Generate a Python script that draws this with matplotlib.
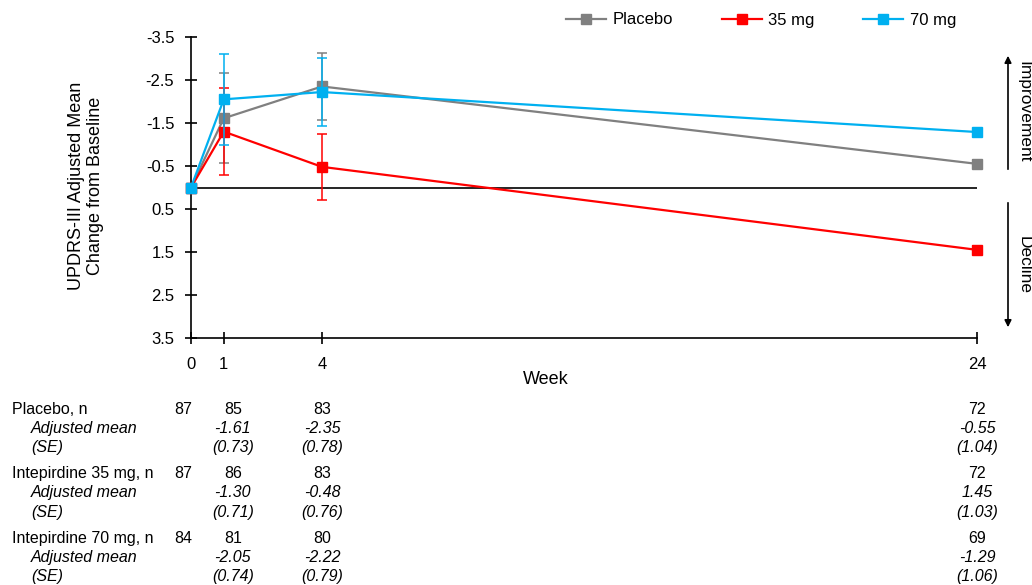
import numpy as np
import matplotlib
matplotlib.use('Agg')
import matplotlib.pyplot as plt
import matplotlib.transforms as mtransforms
from matplotlib.lines import Line2D

############################################################
# Data

weeks = [0, 1, 4, 24]
week_ticks = [0, 1, 4, 24]

placebo = [0, -1.61, -2.35, -0.55]
mg35 = [0, -1.30, -0.48, 1.45]
mg70 = [0, -2.05, -2.22, -1.29]

# error bar half-lengths as drawn in the figure
placebo_err = [0, 1.05, 0.77, 0.08]
mg35_err = [0, 1.02, 0.77, 0.08]
mg70_err = [0, 1.06, 0.80, 0.08]

series_names = ['Placebo', '35 mg', '70 mg']
colors = ['#808080', '#FF0000', '#00B0F0']

# table below the chart
row_labels = ['Placebo, n', 'Adjusted mean', '(SE)',
              'Intepirdine 35 mg, n', 'Adjusted mean', '(SE)',
              'Intepirdine 70 mg, n', 'Adjusted mean', '(SE)']
n_placebo = ['87', '85', '83', '72']
n_35 = ['87', '86', '83', '72']
n_70 = ['84', '81', '80', '69']
mean_placebo = ['', '-1.61', '-2.35', '-0.55']
mean_35 = ['', '-1.30', '-0.48', '1.45']
mean_70 = ['', '-2.05', '-2.22', '-1.29']
se_placebo = ['', '(0.73)', '(0.78)', '(1.04)']
se_35 = ['', '(0.71)', '(0.76)', '(1.03)']
se_70 = ['', '(0.74)', '(0.79)', '(1.06)']

############################################################
# Plotting

plt.rcParams['font.family'] = ['Liberation Sans', 'DejaVu Sans']

W, H = 1032, 585
fig = plt.figure(figsize=(W / 100, H / 100), dpi=100)
ax = fig.add_axes([191 / W, 1 - 338 / H, (977 - 191) / W, (338 - 37) / H])

def fx(px):
    return px / W

def fy(py):
    return 1 - py / H

ax.axhline(0, color='black', lw=1.2, zorder=1)

all_y = [placebo, mg35, mg70]
all_err = [placebo_err, mg35_err, mg70_err]
handles = []
for i in range(3):
    ax.errorbar(weeks, all_y[i], yerr=all_err[i], color=colors[i], marker='s',
                markersize=7, lw=1.6, elinewidth=1.1, capsize=3.5, capthick=1.1,
                clip_on=False, zorder=3 + i)
    handles.append(Line2D([], [], color=colors[i], marker='s', markersize=7, lw=1.6,
                          label=series_names[i]))

ax.set_xlim(0, 24)
ax.set_ylim(3.5, -3.5)
ax.set_xticks(week_ticks)
ax.set_xticklabels([str(w) for w in week_ticks])
yt = np.arange(-3.5, 3.6, 1.0)
ax.set_yticks(yt)
ax.set_yticklabels(['%.1f' % v for v in yt])
ax.tick_params(direction='inout', length=8, width=1.2, labelsize=12, colors='black')
ax.tick_params(axis='x', pad=10)
ax.tick_params(axis='y', pad=8)
for s in ['top', 'right']:
    ax.spines[s].set_visible(False)
for s in ['left', 'bottom']:
    ax.spines[s].set_linewidth(1.2)

fig.text(fx(546), fy(380), 'Week', ha='center', va='center', fontsize=13)
fig.text(fx(86), fy(186), 'UPDRS-III Adjusted Mean\nChange from Baseline', rotation=90,
         ha='center', va='center', fontsize=13, multialignment='center', linespacing=1.1)

leg = fig.legend(handles=handles, loc='center', bbox_to_anchor=(fx(761), fy(20)), ncol=3,
                 frameon=False, fontsize=12, handlelength=2.4, columnspacing=2.9,
                 handletextpad=0.4)

# improvement / decline arrows
ax.annotate('', xy=(fx(1008), fy(53)), xytext=(fx(1008), fy(172)), xycoords='figure fraction',
            textcoords='figure fraction',
            arrowprops=dict(arrowstyle='-|>', color='black', lw=1.2, mutation_scale=10))
ax.annotate('', xy=(fx(1008), fy(330)), xytext=(fx(1008), fy(200)), xycoords='figure fraction',
            textcoords='figure fraction',
            arrowprops=dict(arrowstyle='-|>', color='black', lw=1.2, mutation_scale=10))
fig.text(fx(1024), fy(112), 'Improvement', rotation=270, ha='center', va='center', fontsize=12.5)
fig.text(fx(1024), fy(265), 'Decline', rotation=270, ha='center', va='center', fontsize=12.5)

# table (y positions are text baselines in pixels)
row_y = [414, 433, 452, 478, 497, 517, 543, 562, 581]
row_x = [12, 31, 31, 12, 31, 31, 12, 31, 31]
row_vals = [n_placebo, mean_placebo, se_placebo, n_35, mean_35, se_35, n_70, mean_70, se_70]
col_shift = [-8, 9, 0, 0]  # pixel offsets of table columns from the week ticks
trans = mtransforms.blended_transform_factory(ax.transData, fig.transFigure)
for r in range(len(row_labels)):
    italic = r % 3 != 0
    st = 'italic' if italic else 'normal'
    fig.text(fx(row_x[r]), fy(row_y[r]), row_labels[r], ha='left', va='baseline',
             fontsize=11.5, style=st)
    for c in range(4):
        t = mtransforms.offset_copy(trans, fig=fig, x=col_shift[c], y=0, units='dots')
        ax.text(weeks[c], fy(row_y[r]), row_vals[r][c], transform=t, ha='center',
                va='baseline', fontsize=11.5, style=st, clip_on=False)

fig.savefig('out.png', dpi=100)
